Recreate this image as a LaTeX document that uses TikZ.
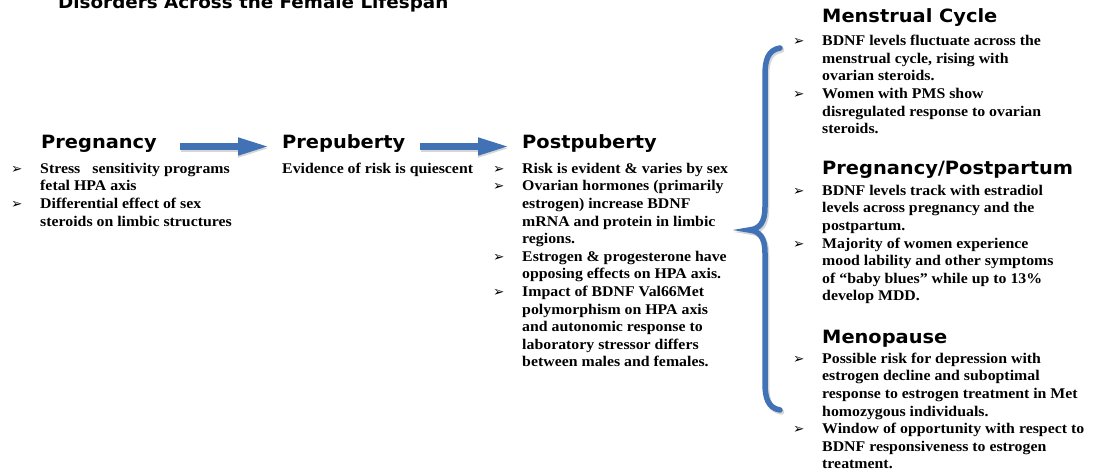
\documentclass[tikz,border=0pt]{standalone}
\usepackage{fontspec}
\setmainfont{Liberation Serif}[FakeStretch=1.07]
\newfontfamily\hdfont{DejaVu Sans}[FakeStretch=1.06]
\newfontfamily\bulfont{DejaVu Sans}
\usetikzlibrary{arrows.meta}
\definecolor{bblue}{RGB}{66,114,182}
\newcommand{\bul}{\makebox[29pt][l]{\bulfont\mdseries\fontsize{13.5}{10}\selectfont ➢}}
\newcommand{\ind}{\hspace*{29pt}}
\newcommand{\fl}{\rule{0pt}{11pt}}
\tikzset{
  body/.style={anchor=north west, inner sep=0pt, align=left,
    font=\fontsize{14.8}{17.6}\selectfont\bfseries},
  head/.style={anchor=base west, inner sep=0pt,
    font=\hdfont\fontsize{18.3}{20}\selectfont\bfseries},
  bigarrow/.style={bblue, line width=7pt, -{Triangle[length=32pt,width=16pt]}},
  arrowshadow/.style={black!35, opacity=0.45, line width=7pt, -{Triangle[length=32pt,width=16pt]}},
  bracestyle/.style={bblue, line width=5.5pt, line cap=round},
}
\begin{document}
\begin{tikzpicture}[x=1pt,y=-1pt]
\useasboundingbox (0,0) rectangle (1100,473);
\fill[white] (0,0) rectangle (1100,473);

% title (partly cut at top, as in the reference)
\node[anchor=base west, inner sep=0pt, font=\hdfont\fontsize{17.3}{18}\selectfont\bfseries] (title) at (58,8.5) {Disorders Across the Female Lifespan};

% left headers
\node[head] (preg) at (41,149) {Pregnancy};
\node[head] (prep) at (282,149) {Prepuberty};
\node[head] (post) at (522,149) {Postpuberty};

% arrows
\draw[arrowshadow] ([xshift=24pt,yshift=0.5pt]preg.base east) -- ([xshift=-12pt,yshift=0.5pt]prep.base west);
\draw[bigarrow] ([xshift=23pt,yshift=2.5pt]preg.base east) -- ([xshift=-12pt,yshift=2.5pt]prep.base west);
\draw[arrowshadow] ([xshift=15pt,yshift=0.5pt]prep.base east) -- ([xshift=-12pt,yshift=0.5pt]post.base west);
\draw[bigarrow] ([xshift=14pt,yshift=2.5pt]prep.base east) -- ([xshift=-12pt,yshift=2.5pt]post.base west);

% left bodies
\node[body] (pregtxt) at (11,162) {\fl\bul Stress\hspace{12pt}sensitivity programs\\
\ind fetal HPA axis\\
\bul Differential effect of sex\\
\ind steroids on limbic structures};

\node[body] (preptxt) at (282,162) {\fl Evidence of risk is quiescent};

\node[body] (posttxt) at (493,162) {\fl\bul Risk is evident \& varies by sex\\
\bul Ovarian hormones (primarily\\
\ind estrogen) increase BDNF\\
\ind mRNA and protein in limbic\\
\ind regions.\\
\bul Estrogen \& progesterone have\\
\ind opposing effects on HPA axis.\\
\bul Impact of BDNF Val66Met\\
\ind polymorphism on HPA axis\\
\ind and autonomic response to\\
\ind laboratory stressor differs\\
\ind between males and females.};

% brace
\draw[bracestyle, black!35, opacity=0.45, xshift=1.5pt, yshift=-2pt]
  (780,48) .. controls (768,50) and (765,60) .. (765,75) -- (765,207)
  .. controls (765,222) and (760,229) .. (749,230)
  .. controls (760,231) and (765,238) .. (765,253) -- (765,383)
  .. controls (765,398) and (768,408) .. (780,410);
\draw[bracestyle]
  (780,48) .. controls (768,50) and (765,60) .. (765,75) -- (765,207)
  .. controls (765,222) and (760,229) .. (749,230)
  .. controls (760,231) and (765,238) .. (765,253) -- (765,383)
  .. controls (765,398) and (768,408) .. (780,410);

% right column
\node[head] (mc) at (822,23) {Menstrual Cycle};
\node[body] (mctxt) at (793,34.5) {\fl\bul BDNF levels fluctuate across the\\
\ind menstrual cycle, rising with\\
\ind ovarian steroids.\\
\bul Women with PMS show\\
\ind disregulated response to ovarian\\
\ind steroids.};

\node[head] (pp) at (822,175) {Pregnancy/Postpartum};
\node[body] (pptxt) at (793,184) {\fl\bul BDNF levels track with estradiol\\
\ind levels across pregnancy and the\\
\ind postpartum.\\
\bul Majority of women experience\\
\ind mood lability and other symptoms\\
\ind of “baby blues” while up to 13\%\\
\ind develop MDD.};

\node[head] (meno) at (822,343) {Menopause};
\node[body] (menotxt) at (793,352) {\fl\bul Possible risk for depression with\\
\ind estrogen decline and suboptimal\\
\ind response to estrogen treatment in Met\\
\ind homozygous individuals.\\
\bul Window of opportunity with respect to\\
\ind BDNF responsiveness to estrogen\\
\ind treatment.};
\end{tikzpicture}
\end{document}
